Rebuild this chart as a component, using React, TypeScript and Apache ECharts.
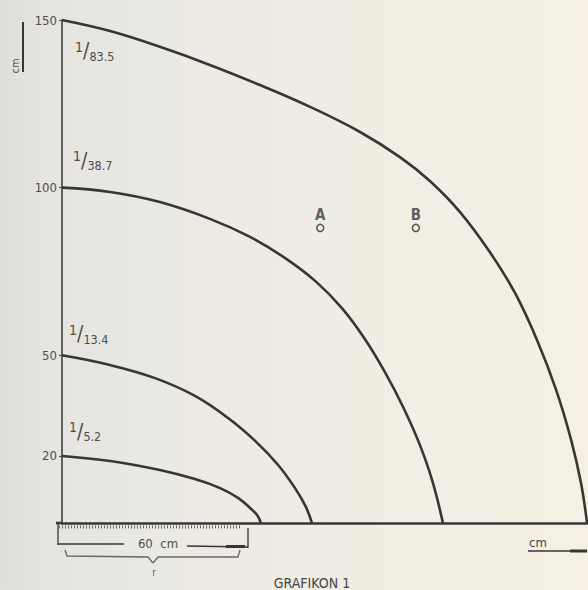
import React, { useEffect, useRef } from "react";
import * as echarts from "echarts";

// Curves (x in cm along the ground, y in cm)
const curve835: [number, number][] = [
  [0, 150], [15.1, 146.7], [30.7, 142.0], [46.4, 136.6], [62.1, 130.6], [77.8, 124.1],
  [93.5, 116.6], [106.0, 109.1], [115.4, 102.0], [124.8, 92.8], [134.2, 80.8],
  [142.1, 68.6], [149.0, 54.6], [155.0, 39.7], [159.7, 24.8], [162.8, 11.9], [164.7, 0],
];
const curve387: [number, number][] = [
  [0, 100], [15.1, 98.7], [30.7, 95.7], [46.4, 90.7], [59.0, 85.3], [70.0, 79.0],
  [79.4, 72.2], [87.8, 64.1], [95.0, 54.9], [101.3, 45.0], [107.0, 34.6],
  [112.0, 23.9], [116.1, 12.8], [119.5, 0],
];
const curve134: [number, number][] = [
  [0, 50], [15.1, 47.1], [29.2, 43.2], [41.7, 37.9], [52.1, 31.3], [60.9, 24.2],
  [67.8, 17.3], [73.1, 10.4], [76.5, 4.8], [78.4, 0],
];
const curve52: [number, number][] = [
  [0, 20], [15.1, 18.5], [30.7, 15.8], [41.7, 13.1], [49.6, 10.4], [55.2, 7.5],
  [59.0, 4.5], [61.2, 2.4], [62.4, 0],
];
const curveLabels = ["83.5", "38.7", "13.4", "5.2"];
const pointNames = ["A", "B"];
const pointValues: [number, number][] = [[81, 88], [111, 88]];
const yTickValues = [20, 50, 100, 150];

const INK = "#363634";
const TXT = "#4e4e4c";
const FONT = "'DejaVu Sans Condensed', 'Liberation Sans Narrow', 'DejaVu Sans', sans-serif";

const rich = {
  n: { fontSize: 14, color: TXT, fontFamily: FONT, padding: [0, 0, 9, 0] },
  s: { fontSize: 21, color: TXT, fontFamily: FONT },
  d: { fontSize: 12.5, color: TXT, fontFamily: FONT, padding: [10, 0, 0, 0] },
};

function makeCurve(data: [number, number][], label: string, distance: number, dy: number) {
  return {
    type: "line",
    smooth: 0.4,
    symbol: "circle",
    symbolSize: 0,
    silent: true,
    lineStyle: { color: INK, width: 2.6 },
    itemStyle: { color: INK },
    data: data.map((p, i) =>
      i === 0
        ? {
            value: p,
            label: {
              show: true,
              position: "right",
              distance,
              offset: [0, dy],
              formatter: `{n|1}{s|/}{d|${label}}`,
              rich,
            },
          }
        : { value: p, label: { show: false } }
    ),
  };
}

export default function App() {
  const ref = useRef<HTMLDivElement>(null);
  useEffect(() => {
    document.body.style.margin = "0";
    const chart = echarts.init(ref.current!, null, { renderer: "svg" });
    const line = (x1: number, y1: number, x2: number, y2: number, w = 1.3, extra: any = {}) => ({
      type: "line",
      shape: { x1, y1, x2, y2 },
      style: { stroke: INK, lineWidth: w, ...extra },
      silent: true,
    });
    chart.setOption({
      animation: false,
      backgroundColor: "transparent",
      grid: { left: 62, right: 0, top: 20, bottom: 67, containLabel: false },
      xAxis: {
        type: "value",
        min: 0,
        max: 165,
        axisLine: { show: true, lineStyle: { color: INK, width: 2.6 } },
        axisTick: { show: false },
        axisLabel: { show: false },
        splitLine: { show: false },
      },
      yAxis: {
        type: "value",
        min: 0,
        max: 150,
        axisLine: { show: true, lineStyle: { color: "#3e3e3c", width: 1.6 } },
        axisTick: { show: true, customValues: yTickValues, length: 3, lineStyle: { color: "#555", width: 1.2 } },
        axisLabel: {
          show: true,
          customValues: yTickValues,
          margin: 5,
          color: TXT,
          fontSize: 13,
          fontFamily: FONT,
        },
        splitLine: { show: false },
      },
      series: [
        makeCurve(curve835, curveLabels[0], 13, 31),
        makeCurve(curve387, curveLabels[1], 11, -27),
        makeCurve(curve134, curveLabels[2], 7, -21),
        makeCurve(curve52, curveLabels[3], 7, -24),
        {
          type: "scatter",
          silent: true,
          symbol: "circle",
          symbolSize: 7,
          itemStyle: { color: "#f1eee6", borderColor: INK, borderWidth: 1.6 },
          label: {
            show: true,
            position: "top",
            distance: 1,
            formatter: (p: any) => p.name,
            color: "#383838",
            fontSize: 15,
            fontWeight: "bold",
            fontFamily: FONT,
          },
          data: pointValues.map((v, i) => ({ name: pointNames[i], value: v })),
        },
      ],
      graphic: [
        line(56, 523, 62, 523, 2.6),
        line(59, 527, 241, 527, 3, { lineDash: [1, 2], stroke: "#6a6a66" }),
        line(58, 524, 58, 545, 1.3),
        line(58, 544, 124, 544, 1.3),
        line(187, 546, 248, 547, 1.3),
        line(226, 546.5, 245, 546.5, 3),
        line(248, 528, 248, 548, 1.3),
        {
          type: "text",
          style: { x: 158, y: 543, text: "60  cm", fill: TXT, fontSize: 13, fontFamily: FONT, align: "center", verticalAlign: "middle" },
          silent: true,
        },
        {
          type: "polyline",
          shape: { points: [[65, 550], [67, 556], [148, 557], [153, 563]] },
          style: { stroke: "#666", lineWidth: 1.3, fill: null },
          silent: true,
        },
        {
          type: "polyline",
          shape: { points: [[153, 563], [158, 557], [238, 557], [240, 550]] },
          style: { stroke: "#666", lineWidth: 1.3, fill: null },
          silent: true,
        },
        {
          type: "text",
          style: { x: 154, y: 572, text: "r", fill: "#666", fontSize: 10, fontFamily: FONT, align: "center", verticalAlign: "middle" },
          silent: true,
        },
        {
          type: "text",
          style: { x: 312, y: 583, text: "GRAFIKON 1", fill: "#444", fontSize: 14, fontFamily: FONT, align: "center", verticalAlign: "middle" },
          silent: true,
        },
        {
          type: "text",
          style: { x: 529, y: 542, text: "cm", fill: "#444", fontSize: 13, fontFamily: FONT, align: "left", verticalAlign: "middle" },
          silent: true,
        },
        line(528, 551, 586, 551, 1.4),
        line(570, 551, 587, 551, 3),
        line(23, 22, 23, 72, 2),
        {
          type: "text",
          rotation: Math.PI / 2,
          x: 15,
          y: 66,
          style: { x: 0, y: 0, text: "cm", fill: "#555", fontSize: 11, fontFamily: FONT, align: "center", verticalAlign: "middle" },
          silent: true,
        },
      ],
    });
    return () => chart.dispose();
  }, []);
  return (
    <div
      ref={ref}
      style={{
        width: 588,
        height: 590,
        background: "linear-gradient(90deg, #dededb 0%, #e5e4e0 8%, #eceae3 35%, #f2eee3 70%, #f5f0e3 100%)",
      }}
    />
  );
}
